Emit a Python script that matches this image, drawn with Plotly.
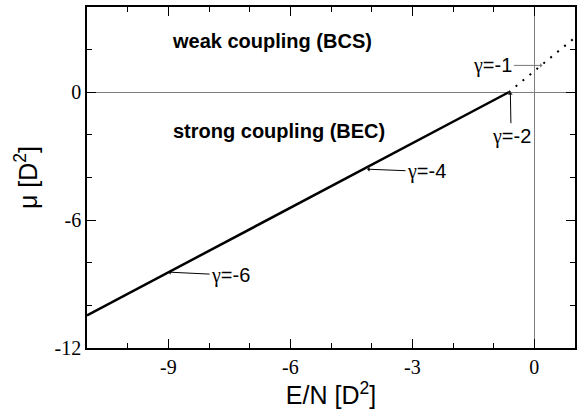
import plotly.graph_objects as go

# BEC branch (solid) and BCS branch (dotted)
bec_x = [-11.0, -9.0, -6.0, -4.14, -2.0, -0.63]
bec_y = [-10.47, -8.45, -5.42, -3.57, -1.38, 0.0]
bcs_x = [-0.63, 0.0, 0.5, 1.0]
bcs_y = [0.0, 0.99, 1.77, 2.57]

# arrow labels: (gamma value, head x, head y, text x, text y, color)
labels_val = ["-1", "-2", "-4", "-6"]
labels_hx = [0.2, -0.59, -4.11, -9.0]
labels_hy = [1.26, 0.0, -3.61, -8.44]
labels_tx = [-1.02, -0.57, -2.65, -7.47]
labels_ty = [1.26, -2.06, -3.72, -8.58]
labels_col = ["#777777", "#000000", "#000000", "#000000"]

region_text = ["weak coupling (BCS)", "strong coupling (BEC)"]
region_x = [-6.44, -6.27]
region_y = [2.4, -1.8]

x_ticks = [-9, -6, -3, 0]
x_ticktext = ["-9", "-6", "-3", "0"]
y_ticks = [-12, -6, 0]
y_ticktext = ["-12", "-6", "0"]

fig = go.Figure()
fig.add_trace(go.Scatter(x=bec_x, y=bec_y, mode="lines",
                         line=dict(color="black", width=2.5), showlegend=False))
fig.add_trace(go.Scatter(x=bcs_x, y=bcs_y, mode="lines",
                         line=dict(color="black", width=2, dash="2px,7px"), showlegend=False))

ann = []
for v, hx, hy, tx, ty, c in zip(labels_val, labels_hx, labels_hy, labels_tx, labels_ty, labels_col):
    t = '<span style="font-family:Liberation Serif">γ</span>=' + v
    ann.append(dict(x=hx, y=hy, ax=tx, ay=ty, xref="x", yref="y", axref="x", ayref="y",
                    text=t, showarrow=True, arrowhead=1, arrowsize=0.8, arrowwidth=1,
                    arrowcolor=c, font=dict(family="Liberation Sans", size=20, color="black")))
for t, x, y in zip(region_text, region_x, region_y):
    ann.append(dict(x=x, y=y, xref="x", yref="y", text="<b>" + t + "</b>", showarrow=False,
                    font=dict(family="Liberation Sans", size=20, color="black")))

axis_common = dict(showline=True, linecolor="black", linewidth=1.5, mirror="ticks",
                   ticks="inside", ticklen=9, tickwidth=1.2, tickcolor="black",
                   showgrid=False, zeroline=True, zerolinecolor="#808080", zerolinewidth=1,
                   tickfont=dict(family="Liberation Serif", size=20, color="black"))

fig.update_layout(
    width=586, height=412,
    margin=dict(l=87, r=11, t=5, b=64),
    paper_bgcolor="white", plot_bgcolor="white",
    annotations=ann,
    xaxis=dict(range=[-11, 1], tickvals=x_ticks, ticktext=x_ticktext,
               minor=dict(dtick=1, ticks="inside", ticklen=5, tickcolor="black", tickwidth=1),
               title=dict(text="E/N [D<sup>2</sup>]", standoff=8,
                          font=dict(family="Liberation Sans", size=25, color="black")),
               **axis_common),
    yaxis=dict(range=[-12, 4], tickvals=y_ticks, ticktext=y_ticktext,
               minor=dict(dtick=2, ticks="inside", ticklen=5, tickcolor="black", tickwidth=1),
               title=dict(text="μ [D<sup>2</sup>]", standoff=10,
                          font=dict(family="Liberation Sans", size=25, color="black")),
               **axis_common),
)
fig.write_html("out.html")
